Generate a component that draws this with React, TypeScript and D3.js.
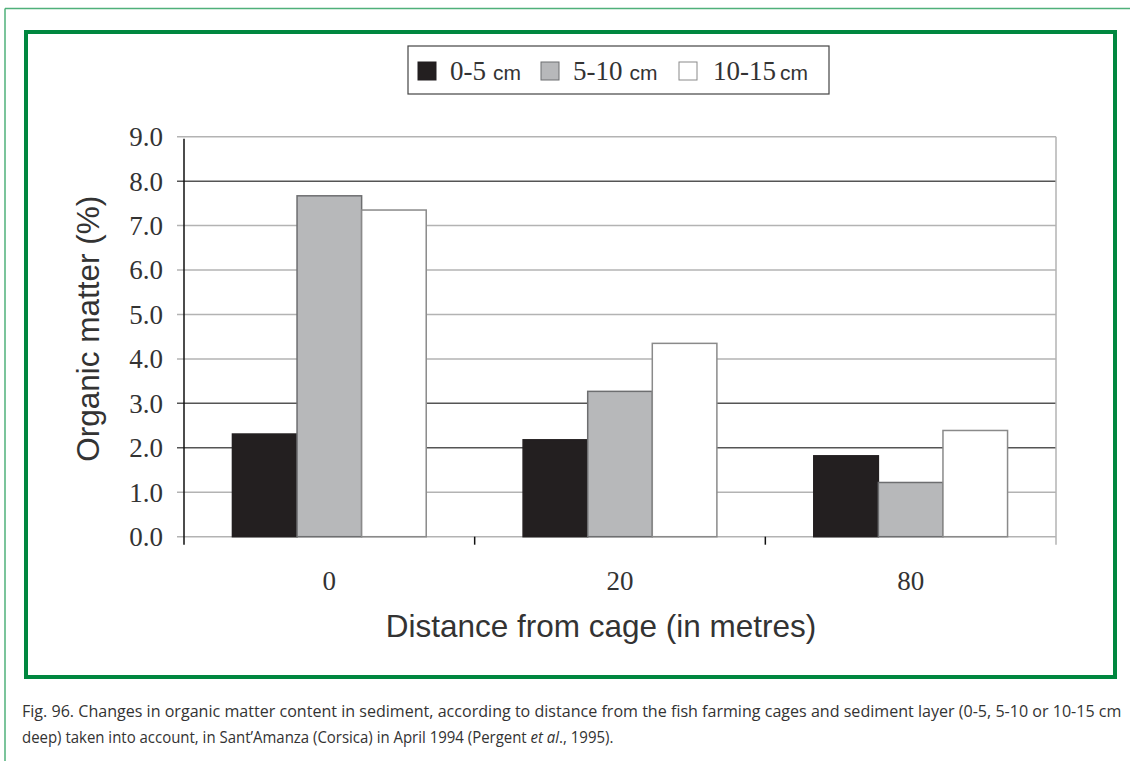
import React, { useEffect, useRef, useState } from "react";
import * as d3 from "d3";

const categories = ["0", "20", "80"];
const seriesNames = ["0-5", "5-10", "10-15"];
const layer0to5 = [2.31, 2.18, 1.82];
const layer5to10 = [7.67, 3.27, 1.22];
const layer10to15 = [7.35, 4.35, 2.39];
const yTicks = [0, 1, 2, 3, 4, 5, 6, 7, 8, 9];
const darkGrid = [2, 3, 8];

const fills = ["#231f20", "#b7b8ba", "#ffffff"];
const strokes = ["#231f20", "#6d6e70", "#8a8a8a"];

export default function App() {
  const W = 1130, H = 761;
  const left = 184, right = 1056, top = 136.7, bottom = 536.7;
  const y = d3.scaleLinear().domain([0, 9]).range([bottom, top]);
  const x = d3.scaleBand<string>().domain(categories).range([left, right]).paddingInner(0).paddingOuter(0);
  const inner = d3.scaleBand<string>().domain(seriesNames).range([0, x.bandwidth()]).paddingInner(0).paddingOuter(0.75);
  const series = [layer0to5, layer5to10, layer10to15];
  const serif = "'Liberation Serif', 'Times New Roman', serif";
  const sans = "'Liberation Sans', Arial, sans-serif";
  const caption = "'Open Sans', 'Liberation Sans', sans-serif";

  const capRef1 = useRef<SVGTextElement>(null);
  const capRef2 = useRef<SVGTextElement>(null);
  const [capScale1, setCapScale1] = useState(0.86);
  const [capScale2, setCapScale2] = useState(0.86);
  useEffect(() => {
    if (capRef1.current) {
      const w = capRef1.current.getComputedTextLength();
      if (w > 0) setCapScale1(1099 / w);
    }
    if (capRef2.current) {
      const w = capRef2.current.getComputedTextLength();
      if (w > 0) setCapScale2(591 / w);
    }
  }, []);

  return (
    <svg width={W} height={H} style={{ position: "absolute", left: 0, top: 0, background: "#fff" }}>
      <rect x={0} y={0} width={W} height={H} fill="#fff" />
      {/* outer thin frame */}
      <line x1={5} y1={8.5} x2={W} y2={8.5} stroke="#4fb07a" strokeWidth={1.5} />
      <line x1={5} y1={8.5} x2={5} y2={H} stroke="#4fb07a" strokeWidth={1.5} />
      {/* thick frame */}
      <rect x={26} y={32} width={1089} height={645} fill="none" stroke="#00873f" strokeWidth={4} />

      {/* gridlines */}
      {yTicks.map((t) => (
        <line key={"g" + t} x1={177} x2={right} y1={y(t)} y2={y(t)}
          stroke={darkGrid.includes(t) ? "#555" : "#b3b3b3"} strokeWidth={1.5} />
      ))}
      {/* right border */}
      <line x1={right} x2={right} y1={top} y2={bottom + 8} stroke="#b3b3b3" strokeWidth={1.5} />

      {/* bars */}
      {categories.map((c, ci) =>
        series.map((s, si) => {
          const bx = (x(c) as number) + (inner(seriesNames[si]) as number);
          return (
            <rect key={c + si} x={bx} y={y(s[ci])} width={inner.bandwidth()} height={bottom - y(s[ci])}
              fill={fills[si]} stroke={strokes[si]} strokeWidth={1.5} />
          );
        })
      )}

      {/* y axis */}
      <line x1={left} x2={left} y1={top + 2} y2={bottom + 8} stroke="#111" strokeWidth={1.5} />
      {/* category separator ticks */}
      {categories.slice(1).map((c) => (
        <line key={"ct" + c} x1={x(c) as number} x2={x(c) as number} y1={bottom} y2={bottom + 8} stroke="#111" strokeWidth={1.5} />
      ))}

      {/* y tick labels */}
      {yTicks.map((t) => (
        <text key={"yl" + t} x={163} y={y(t)} dy="0.35em" textAnchor="end" fontFamily={serif} fontSize={27} fill="#333">
          {t.toFixed(1)}
        </text>
      ))}
      {/* x labels */}
      {categories.map((c) => (
        <text key={"xl" + c} x={(x(c) as number) + x.bandwidth() / 2} y={590} textAnchor="middle" fontFamily={serif} fontSize={27} fill="#333">
          {c}
        </text>
      ))}

      {/* axis titles */}
      <text x={601} y={637} textAnchor="middle" fontFamily={sans} fontSize={31.5} fill="#333">
        Distance from cage (in metres)
      </text>
      <text transform={`translate(99,${(top + bottom) / 2 - 8}) rotate(-90)`} textAnchor="middle" fontFamily={sans} fontSize={31.5} fill="#333">
        Organic matter (%)
      </text>

      {/* legend */}
      <rect x={408} y={46} width={421} height={48} fill="#fff" stroke="#444" strokeWidth={1.2} />
      {[
        { sq: 418, tx: 450, gap: 7 },
        { sq: 541, tx: 573, gap: 7 },
        { sq: 679, tx: 713, gap: 4 },
      ].map((p, i) => (
        <g key={"lg" + i}>
          <rect x={p.sq} y={62} width={18} height={18} fill={fills[i]} stroke={strokes[i]} strokeWidth={1} />
          <text x={p.tx} y={80} fontFamily={serif} fontSize={27} fill="#333">
            {seriesNames[i]}
            <tspan fontFamily={sans} fontSize={21} dx={p.gap}>cm</tspan>
          </text>
        </g>
      ))}

      {/* caption */}
      <g transform={`translate(22,0) scale(${capScale1},1)`}>
        <text ref={capRef1} x={0} y={717} fontFamily={caption} fontSize={16} fill="#333">
          Fig. 96. Changes in organic matter content in sediment, according to distance from the fish farming cages and sediment layer (0-5, 5-10 or 10-15 cm
        </text>
      </g>
      <g transform={`translate(22,0) scale(${capScale2},1)`}>
        <text ref={capRef2} x={0} y={743} fontFamily={caption} fontSize={16} fill="#333">
          deep) taken into account, in Sant’Amanza (Corsica) in April 1994 (Pergent <tspan fontStyle="italic">et al</tspan>., 1995).
        </text>
      </g>
    </svg>
  );
}
